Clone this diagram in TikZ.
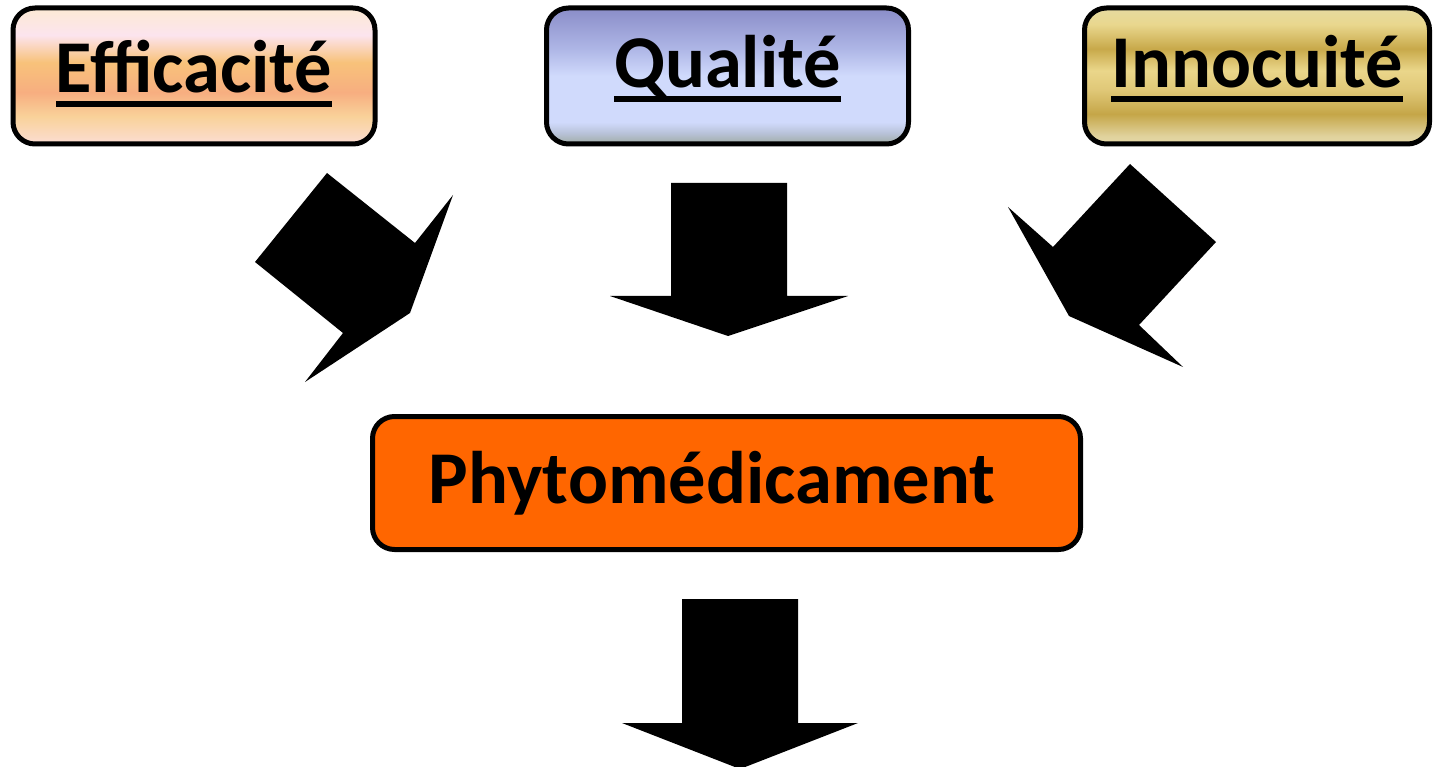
\documentclass[tikz,border=0pt]{standalone}
\usepackage{fontspec}
\setmainfont{Carlito}
\usepackage{tikz}

\definecolor{phyto}{HTML}{FF6600}
% vertical shadings (25bp = bottom of box, 75bp = top of box)
\pgfdeclareverticalshading{effshade}{100bp}{%
  color(0bp)=(rgb,255:red,251;green,221;blue,211); color(25bp)=(rgb,255:red,251;green,221;blue,211);
  color(35bp)=(rgb,255:red,249;green,210;blue,154); color(44bp)=(rgb,255:red,247;green,174;blue,128);
  color(55bp)=(rgb,255:red,248;green,194;blue,122); color(65bp)=(rgb,255:red,252;green,228;blue,238);
  color(75bp)=(rgb,255:red,252;green,234;blue,212); color(100bp)=(rgb,255:red,252;green,234;blue,212)}
\pgfdeclareverticalshading{qualshade}{100bp}{%
  color(0bp)=(rgb,255:red,160;green,172;blue,164); color(25bp)=(rgb,255:red,160;green,172;blue,164);
  color(29bp)=(rgb,255:red,184;green,194;blue,216); color(33bp)=(rgb,255:red,208;green,218;blue,252);
  color(50bp)=(rgb,255:red,208;green,218;blue,252); color(60bp)=(rgb,255:red,174;green,182;blue,230);
  color(75bp)=(rgb,255:red,138;green,141;blue,200); color(100bp)=(rgb,255:red,138;green,141;blue,200)}
\pgfdeclareverticalshading{innshade}{100bp}{%
  color(0bp)=(rgb,255:red,228;green,216;blue,168); color(25bp)=(rgb,255:red,228;green,216;blue,168);
  color(28bp)=(rgb,255:red,224;green,210;blue,156); color(36bp)=(rgb,255:red,197;green,166;blue,72);
  color(45bp)=(rgb,255:red,224;green,200;blue,120); color(52bp)=(rgb,255:red,234;green,214;blue,138);
  color(60bp)=(rgb,255:red,200;green,169;blue,74); color(69bp)=(rgb,255:red,233;green,215;blue,142);
  color(75bp)=(rgb,255:red,230;green,218;blue,160); color(100bp)=(rgb,255:red,230;green,218;blue,160)}

% thick underline under a word
\newcommand{\ulword}[1]{\setbox0\hbox{#1}\rlap{\rule[-14pt]{\wd0}{6pt}}\box0}

\tikzset{
  critbox/.style={draw=black,line width=5pt,rounded corners=22pt,shade,
    minimum width=362pt,minimum height=136pt,inner sep=0pt,
    font=\fontsize{74.5}{80}\selectfont\bfseries,text height=40pt,text depth=16pt},
  blockarrow/.style={fill=black,draw=none}
}

\begin{document}
\begin{tikzpicture}[x=1pt,y=-1pt]
  \useasboundingbox[fill=white] (0,0) rectangle (1435,767);
  % the three criteria
  \node[critbox,shading=effshade,text depth=6pt] (eff) at (194,76) {\ulword{Efficacité}};
  \node[critbox,shading=qualshade] (qual) at (727.5,76) {\ulword{Qualité}};
  \node[critbox,shading=innshade,minimum width=345pt] (inn) at (1257,76) {\ulword{Innocuité}};
  % result
  \node[critbox,fill=phyto,shade=false,minimum width=708pt,minimum height=133pt,
    text height=44pt,text depth=4pt] (phyto) at (726.5,483) {Phytomédicament\hspace{29pt}\mbox{}};
  % block arrows
  \fill[blockarrow] (327,173) -- (415,243) -- (453,195) -- (410,313) -- (305,382) -- (343,333) -- (255,262) -- cycle; % from eff
  \fill[blockarrow] (671,183) -- (787,183) -- (787,296) -- (848,296) -- (728,336) -- (610,296) -- (671,296) -- cycle; % from qual
  \fill[blockarrow] (1130,164) -- (1216,242) -- (1139,325) -- (1183,367) -- (1069,316) -- (1008,207) -- (1053,247) -- cycle; % from inn
  \fill[blockarrow] (682,599) -- (798,599) -- (798,723) -- (858,723) -- (740,769) -- (622,723) -- (682,723) -- cycle; % below phyto
\end{tikzpicture}
\end{document}
